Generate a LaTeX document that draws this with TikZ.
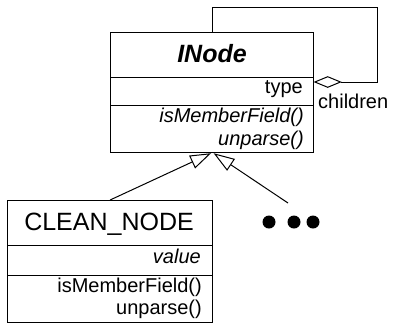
\documentclass[tikz,border=0pt]{standalone}
\usepackage{fontspec}
\setmainfont{Liberation Sans}
\usetikzlibrary{arrows.meta,calc,shapes.geometric}
\begin{document}
\begin{tikzpicture}[x=1pt,y=-1pt,
  compart/.style n args={2}{draw, line width=1.2pt, inner sep=0pt,
    anchor=north west, minimum width=#1pt, minimum height=#2pt},
  classname/.style={inner sep=0pt, anchor=base, font=\fontsize{25}{30}\selectfont},
  member/.style={inner sep=0pt, anchor=base east, font=\fontsize{20}{24}\selectfont},
  conn/.style={line width=1pt},
  gen/.style={conn, -{Triangle[open, length=21pt, width=14pt]}},
  aggmark/.style={diamond, draw, line width=1pt, fill=white, inner sep=0pt,
    minimum width=26pt, minimum height=11pt},
  dot/.style={circle, fill=black, inner sep=0pt, minimum size=13pt}
]
\useasboundingbox[fill=white] (0,0) rectangle (394,325);

% abstract class INode
\node[compart={203}{45}] (inodeName) at (110,32) {};
\node[compart={203}{28}] (inodeAttr) at (110,77) {};
\node[compart={203}{47}] (inodeOps)  at (110,105) {};
\node[classname] (inodeTitle) at (212,62) {\bfseries\itshape INode};
\node[member] (inodeType) at (303,93) {type};
\node[member] (inodeIsMember) at (304,122) {\itshape isMemberField()};
\node[member] (inodeUnparse) at (304,145) {\itshape unparse()};

% concrete class CLEAN_NODE
\node[compart={205}{45}] (cleanName) at (7,200) {};
\node[compart={205}{30}] (cleanAttr) at (7,245) {};
\node[compart={205}{47}] (cleanOps)  at (7,275) {};
\node[classname] (cleanTitle) at (109,230) {CLEAN\_NODE};
\node[member] (cleanValue) at (201,263) {\itshape value};
\node[member] (cleanIsMember) at (202,292) {isMemberField()};
\node[member] (cleanUnparse) at (202,314) {unparse()};

% further subclasses, elided
\node[dot] (more1) at (269,222) {};
\node[dot] (more2) at (294,222) {};
\node[dot] (more3) at (313,222) {};
\coordinate (moreEnd) at (288,203);

% children: aggregation of INode by itself
\node[aggmark, anchor=west] (aggDiamond) at ($(inodeAttr.north east)+(0,5)$) {};
\coordinate (loopCorner) at (377,7);
\draw[conn] (inodeName.north) |- (loopCorner) |- (aggDiamond.east);
\node[inner sep=0pt, anchor=base west, font=\fontsize{20}{24}\selectfont]
  (childrenLbl) at (318,108) {children};

% generalisation arrows
\draw[gen] (cleanName.north) -- ([xshift=-1pt]inodeOps.south);
\draw[gen] (moreEnd) -- ([xshift=1.5pt]inodeOps.south);
\end{tikzpicture}
\end{document}
